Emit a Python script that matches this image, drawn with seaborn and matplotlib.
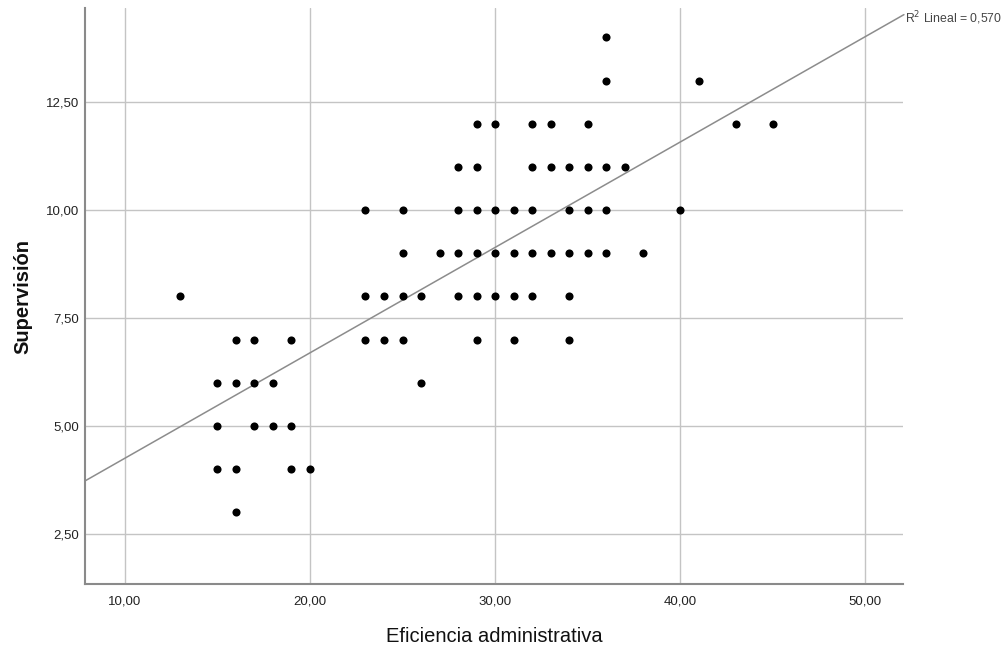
import matplotlib
matplotlib.use("Agg")
import matplotlib.pyplot as plt
import seaborn as sns
import numpy as np
import pandas as pd
from matplotlib.ticker import FuncFormatter

# Data (integer-valued scores)
eficiencia = [13,
              15, 15, 15,
              16, 16, 16, 16,
              17, 17, 17,
              18, 18,
              19, 19, 19,
              20,
              23, 23, 23,
              24, 24,
              25, 25, 25, 25,
              26, 26,
              27,
              28, 28, 28, 28,
              29, 29, 29, 29, 29, 29,
              30, 30, 30, 30,
              31, 31, 31, 31,
              32, 32, 32, 32, 32,
              33, 33, 33,
              34, 34, 34, 34, 34,
              35, 35, 35, 35,
              36, 36, 36, 36, 36,
              37, 38, 40, 41, 43, 45]
supervision = [8,
               6, 5, 4,
               7, 6, 4, 3,
               7, 6, 5,
               6, 5,
               7, 5, 4,
               4,
               10, 8, 7,
               8, 7,
               10, 9, 8, 7,
               8, 6,
               9,
               11, 10, 9, 8,
               12, 11, 10, 9, 8, 7,
               12, 10, 9, 8,
               10, 9, 8, 7,
               12, 11, 10, 9, 8,
               12, 11, 9,
               11, 10, 9, 8, 7,
               12, 11, 10, 9,
               14, 13, 11, 10, 9,
               11, 9, 10, 13, 12, 12]

# Linear fit as shown in the chart (the full data set
# includes overlapping cases that are not visible)
fit_intercept = 1.814
fit_slope = 0.244

x_ticks = [10, 20, 30, 40, 50]
y_ticks = [2.5, 5.0, 7.5, 10.0, 12.5]
r2_label = "R$^2$ Lineal = 0,570"

df = pd.DataFrame({"Eficiencia administrativa": eficiencia, "Supervisión": supervision})

sns.set_style("white")
plt.rcParams['font.family'] = ['Liberation Sans', 'DejaVu Sans']

fig = plt.figure(figsize=(10.05, 6.52), dpi=100)
ax = fig.add_axes([85/1005, 1 - 584/652, (903-85)/1005, (584-8)/652])
xlim = (7.84, 52.05)
ax.set_xlim(*xlim)
ax.set_ylim(1.34, 14.68)

ax.set_xticks(x_ticks)
ax.set_yticks(y_ticks)
ax.grid(True, color="#c4c4c4", linewidth=1.0)
ax.set_axisbelow(True)

sns.scatterplot(data=df, x="Eficiencia administrativa", y="Supervisión", ax=ax,
                s=34, color="black", edgecolor="black", linewidth=0, alpha=1, zorder=3)

fit_x = np.array([xlim[0], xlim[1] + 0.05])
ax.plot(fit_x, fit_intercept + fit_slope * fit_x, color="#8c8c8c", linewidth=1.1,
        zorder=2, clip_on=False)

fmt = FuncFormatter(lambda v, p: f"{v:.2f}".replace(".", ","))
ax.xaxis.set_major_formatter(fmt)
ax.yaxis.set_major_formatter(fmt)
ax.tick_params(axis="x", length=0, labelsize=9.5, colors="#222222", pad=8)
ax.tick_params(axis="y", length=0, labelsize=9.5, colors="#222222", pad=4)

for s in ["top", "right"]:
    ax.spines[s].set_visible(False)
for s in ["left", "bottom"]:
    ax.spines[s].set_color("#8a8a8a")
    ax.spines[s].set_linewidth(1.5)

ax.set_xlabel("Eficiencia administrativa", fontsize=14.5, color="#111111", labelpad=14)
ax.set_ylabel("Supervisión", fontsize=14.5, fontweight="bold", color="#111111", labelpad=10)

fig.text(905/1005, 1 - 18/652, r2_label, fontsize=8.8, color="#444444", ha="left", va="center")

fig.savefig("out.png", dpi=100)
